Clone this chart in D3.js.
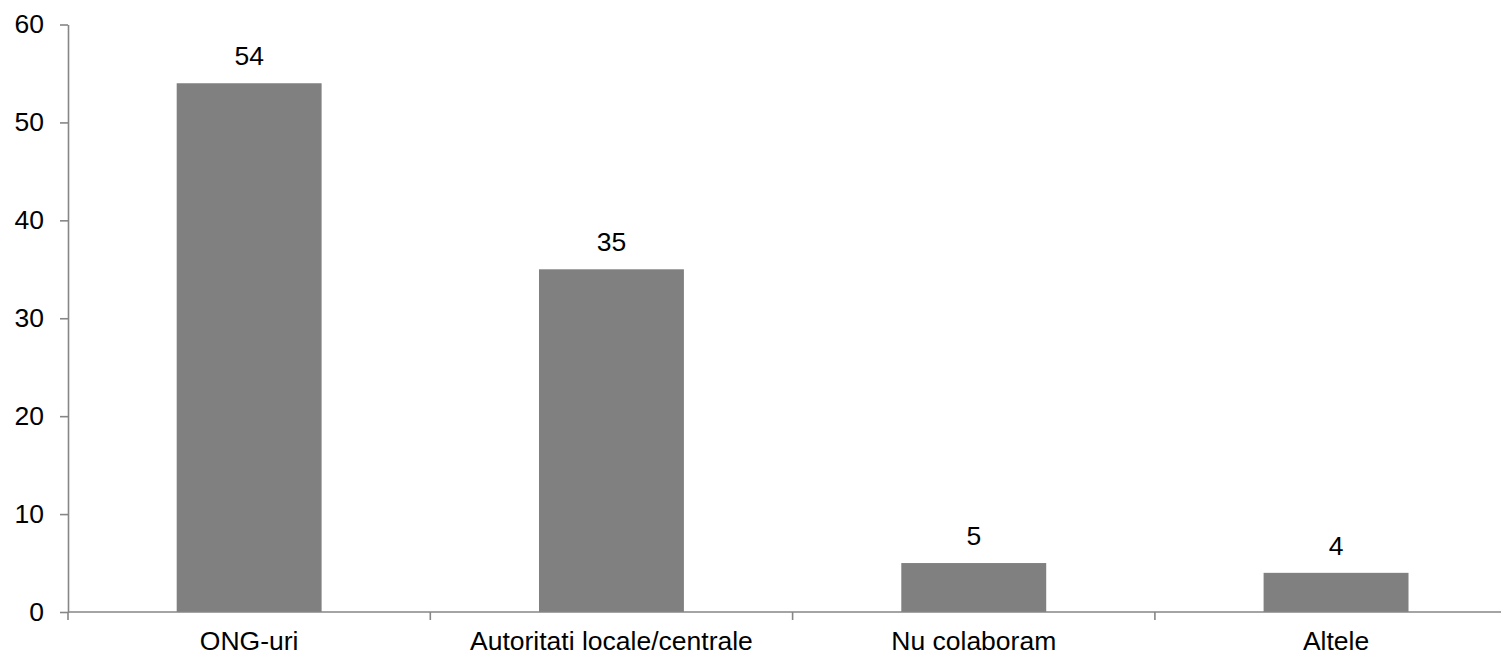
<!DOCTYPE html>
<html>
<head>
<meta charset="utf-8">
<script src="https://cdn.jsdelivr.net/npm/d3@7"></script>
<style>
  html, body { margin: 0; padding: 0; background: #fff; }
  svg { display: block; font-family: "Liberation Sans", Arial, sans-serif; }
</style>
</head>
<body>
<svg id="chart" width="1501" height="656"></svg>
<script>
// Collaboration partners (count of responses)
const categories = ["ONG-uri", "Autoritati locale/centrale", "Nu colaboram", "Altele"];
const values = [54, 35, 5, 4];
const yTicks = [0, 10, 20, 30, 40, 50, 60];

const svg = d3.select("#chart");
const axisColor = "#868686";
const barColor = "#808080";
const fontSize = 26.5;

const plotLeft = 68, plotRight = 68 + 4 * 362.3;
const plotTop = 24.5, plotBottom = 612;

const x = d3.scaleBand()
  .domain(categories)
  .range([plotLeft, plotRight])
  .paddingInner(0.6)
  .paddingOuter(0.3);

const y = d3.scaleLinear().domain([0, 60]).range([plotBottom, plotTop]);

// Bars
svg.append("g")
  .selectAll("rect")
  .data(values)
  .join("rect")
  .attr("x", (d, i) => x(categories[i]))
  .attr("y", d => y(d))
  .attr("width", x.bandwidth())
  .attr("height", d => y(0) - y(d))
  .attr("fill", barColor);

// Value labels
svg.append("g")
  .selectAll("text")
  .data(values)
  .join("text")
  .attr("x", (d, i) => x(categories[i]) + x.bandwidth() / 2)
  .attr("y", d => y(d) - 18)
  .attr("text-anchor", "middle")
  .attr("font-size", fontSize)
  .attr("fill", "#000")
  .text(d => d);

// Y axis
const yAxis = svg.append("g")
  .attr("transform", `translate(${plotLeft},0)`)
  .call(d3.axisLeft(y).tickValues(yTicks).tickSize(8).tickSizeOuter(0).tickPadding(16));
yAxis.select(".domain").attr("stroke", axisColor).attr("stroke-width", 1.6);
yAxis.selectAll(".tick line").attr("stroke", axisColor).attr("stroke-width", 1.6);
yAxis.selectAll(".tick text")
  .attr("font-size", fontSize)
  .attr("font-family", "Liberation Sans, Arial, sans-serif")
  .attr("fill", "#000");

// X axis: baseline, boundary ticks between categories, labels at band centres
const xAxis = svg.append("g");
xAxis.append("line")
  .attr("x1", plotLeft).attr("x2", 1501)
  .attr("y1", y(0)).attr("y2", y(0))
  .attr("stroke", axisColor).attr("stroke-width", 1.6);

const boundaries = d3.range(categories.length + 1).map(i => plotLeft + i * x.step());
xAxis.selectAll("line.bound")
  .data(boundaries)
  .join("line")
  .attr("class", "bound")
  .attr("x1", d => d).attr("x2", d => d)
  .attr("y1", y(0)).attr("y2", y(0) + 8)
  .attr("stroke", axisColor).attr("stroke-width", 1.6);

xAxis.selectAll("text")
  .data(categories)
  .join("text")
  .attr("x", d => x(d) + x.bandwidth() / 2)
  .attr("y", 650)
  .attr("text-anchor", "middle")
  .attr("font-size", fontSize)
  .attr("fill", "#000")
  .text(d => d);
</script>
</body>
</html>
